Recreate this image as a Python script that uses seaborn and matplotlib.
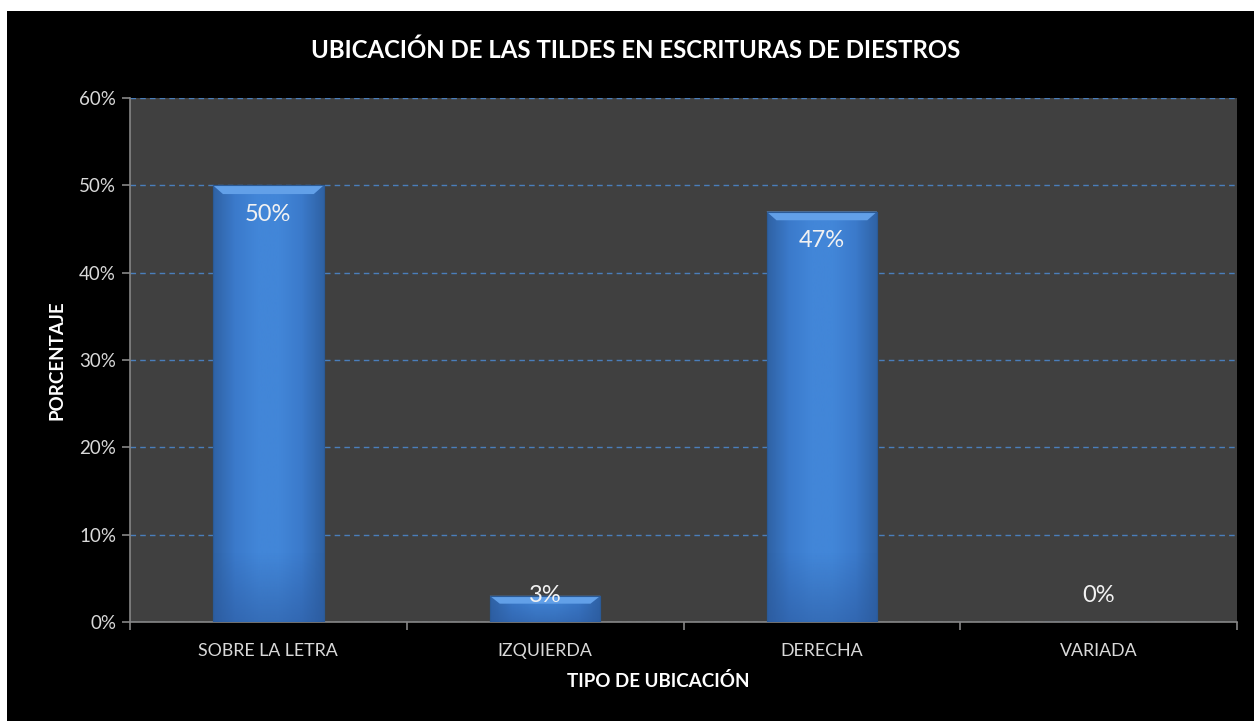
import numpy as np
import pandas as pd
import matplotlib
matplotlib.use("Agg")
import matplotlib.pyplot as plt
import matplotlib.patches as mpatches
from matplotlib.colors import LinearSegmentedColormap
from matplotlib.ticker import PercentFormatter, FixedLocator
import seaborn as sns

categories = ["SOBRE LA LETRA", "IZQUIERDA", "DERECHA", "VARIADA"]
values = [0.50, 0.03, 0.47, 0.00]
value_labels = ["50%", "3%", "47%", "0%"]
y_ticks = [0.0, 0.1, 0.2, 0.3, 0.4, 0.5, 0.6]
title = "UBICACIÓN DE LAS TILDES EN ESCRITURAS DE DIESTROS"
xlabel = "TIPO DE UBICACIÓN"
ylabel = "PORCENTAJE"

sns.set_theme(style="dark")
plt.rcParams["font.family"] = ["Lato", "DejaVu Sans"]

W, H = 1254, 721
fig = plt.figure(figsize=(W / 100, H / 100), dpi=100)
fig.patch.set_facecolor("white")
fig.add_artist(mpatches.Rectangle((7 / W, 0), 1 - 7 / W, 1 - 11 / H,
                                  transform=fig.transFigure, facecolor="black",
                                  edgecolor="none", zorder=-10))

ax = fig.add_axes([130 / W, 1 - 622 / H, (1237 - 130) / W, (622 - 98) / H])
ax.set_facecolor("#404040")

df = pd.DataFrame({"cat": categories, "val": values})
sns.barplot(data=df, x="cat", y="val", color="#3f7fcf", width=0.4, ax=ax,
            saturation=1, edgecolor="#2b5a96", linewidth=0.8, zorder=3)

# gradient overlay clipped to bars
cmap = LinearSegmentedColormap.from_list(
    "barg", ["#2f62a4", "#3b7acb", "#4286d8", "#4286d8", "#3b7acb", "#2f62a4"])
grad = np.linspace(0, 1, 256).reshape(1, -1)
for p in ax.patches:
    x0, y0 = p.get_x(), p.get_y()
    w, h = p.get_width(), p.get_height()
    if h <= 0:
        continue
    im = ax.imshow(grad, cmap=cmap, extent=[x0, x0 + w, y0, y0 + h],
                   aspect="auto", zorder=3.5, origin="lower")
    im.set_clip_path(p)
    # darker bottom shade
    shade = np.linspace(0, 1, 64).reshape(-1, 1)
    scm = LinearSegmentedColormap.from_list(
        "shade", [(0.17, 0.35, 0.62, 0.55), (0.17, 0.35, 0.62, 0.0)])
    im2 = ax.imshow(shade, cmap=scm, extent=[x0, x0 + w, y0, y0 + min(h, 0.08)],
                    aspect="auto", zorder=3.6, origin="lower")
    im2.set_clip_path(p)
    # light top bevel
    bev = min(0.01, h * 0.3)
    inset = w * 0.09
    top = mpatches.Polygon([[x0, y0 + h], [x0 + w, y0 + h],
                            [x0 + w - inset, y0 + h - bev], [x0 + inset, y0 + h - bev]],
                           closed=True, facecolor="#62a0e8", edgecolor="none", zorder=3.7)
    ax.add_patch(top)
    ax.add_patch(mpatches.Rectangle((x0, y0), w, h, facecolor="none",
                                    edgecolor="#2b5a96", linewidth=0.8, zorder=3.8))

ax.set_ylim(0, 0.6)
ax.set_xlim(-0.5, len(categories) - 0.5)
ax.yaxis.set_major_locator(FixedLocator(y_ticks))
ax.yaxis.set_major_formatter(PercentFormatter(1.0, decimals=0))
ax.grid(axis="y", color="#4a7ebb", linestyle=(0, (4, 3)), linewidth=1.0, zorder=1)
ax.grid(axis="x", visible=False)
ax.set_axisbelow(True)

for s in ["top", "right"]:
    ax.spines[s].set_visible(False)
for s in ["left", "bottom"]:
    ax.spines[s].set_visible(True)
    ax.spines[s].set_color("#868686")
    ax.spines[s].set_linewidth(1.2)

ax.tick_params(axis="y", which="major", colors="#868686", labelcolor="#d9d9d9",
               length=6, width=1.2, labelsize=13.5, left=True, pad=4)
ax.tick_params(axis="x", which="major", length=0, labelcolor="#d9d9d9",
               labelsize=12.8, pad=15)
ax.set_xticks(np.arange(-0.5, len(categories), 1.0), minor=True)
ax.tick_params(axis="x", which="minor", length=6, width=1.2, color="#868686",
               bottom=True)

for i, (v, lab) in enumerate(zip(values, value_labels)):
    ypos = max(v - 0.033, 0.03)
    ax.text(i, ypos, lab, ha="center", va="center", color="#f2f2f2",
            fontsize=17, zorder=5)

ax.set_xlabel(xlabel, color="white", fontsize=13.5, fontweight="bold")
ax.xaxis.set_label_coords((658 - 130) / (1237 - 130), -0.112)
ax.xaxis.label.set_va("center")
ax.set_ylabel(ylabel, color="white", fontsize=13.5, fontweight="bold")
ax.yaxis.set_label_coords(-(130 - 57) / (1237 - 130), 0.5)
ax.yaxis.label.set_va("center")
fig.text(636 / W, 1 - 50 / H, title, ha="center", va="center", color="white",
         fontsize=17.3, fontweight="bold")

fig.savefig("out.png", dpi=100, facecolor=fig.get_facecolor())
